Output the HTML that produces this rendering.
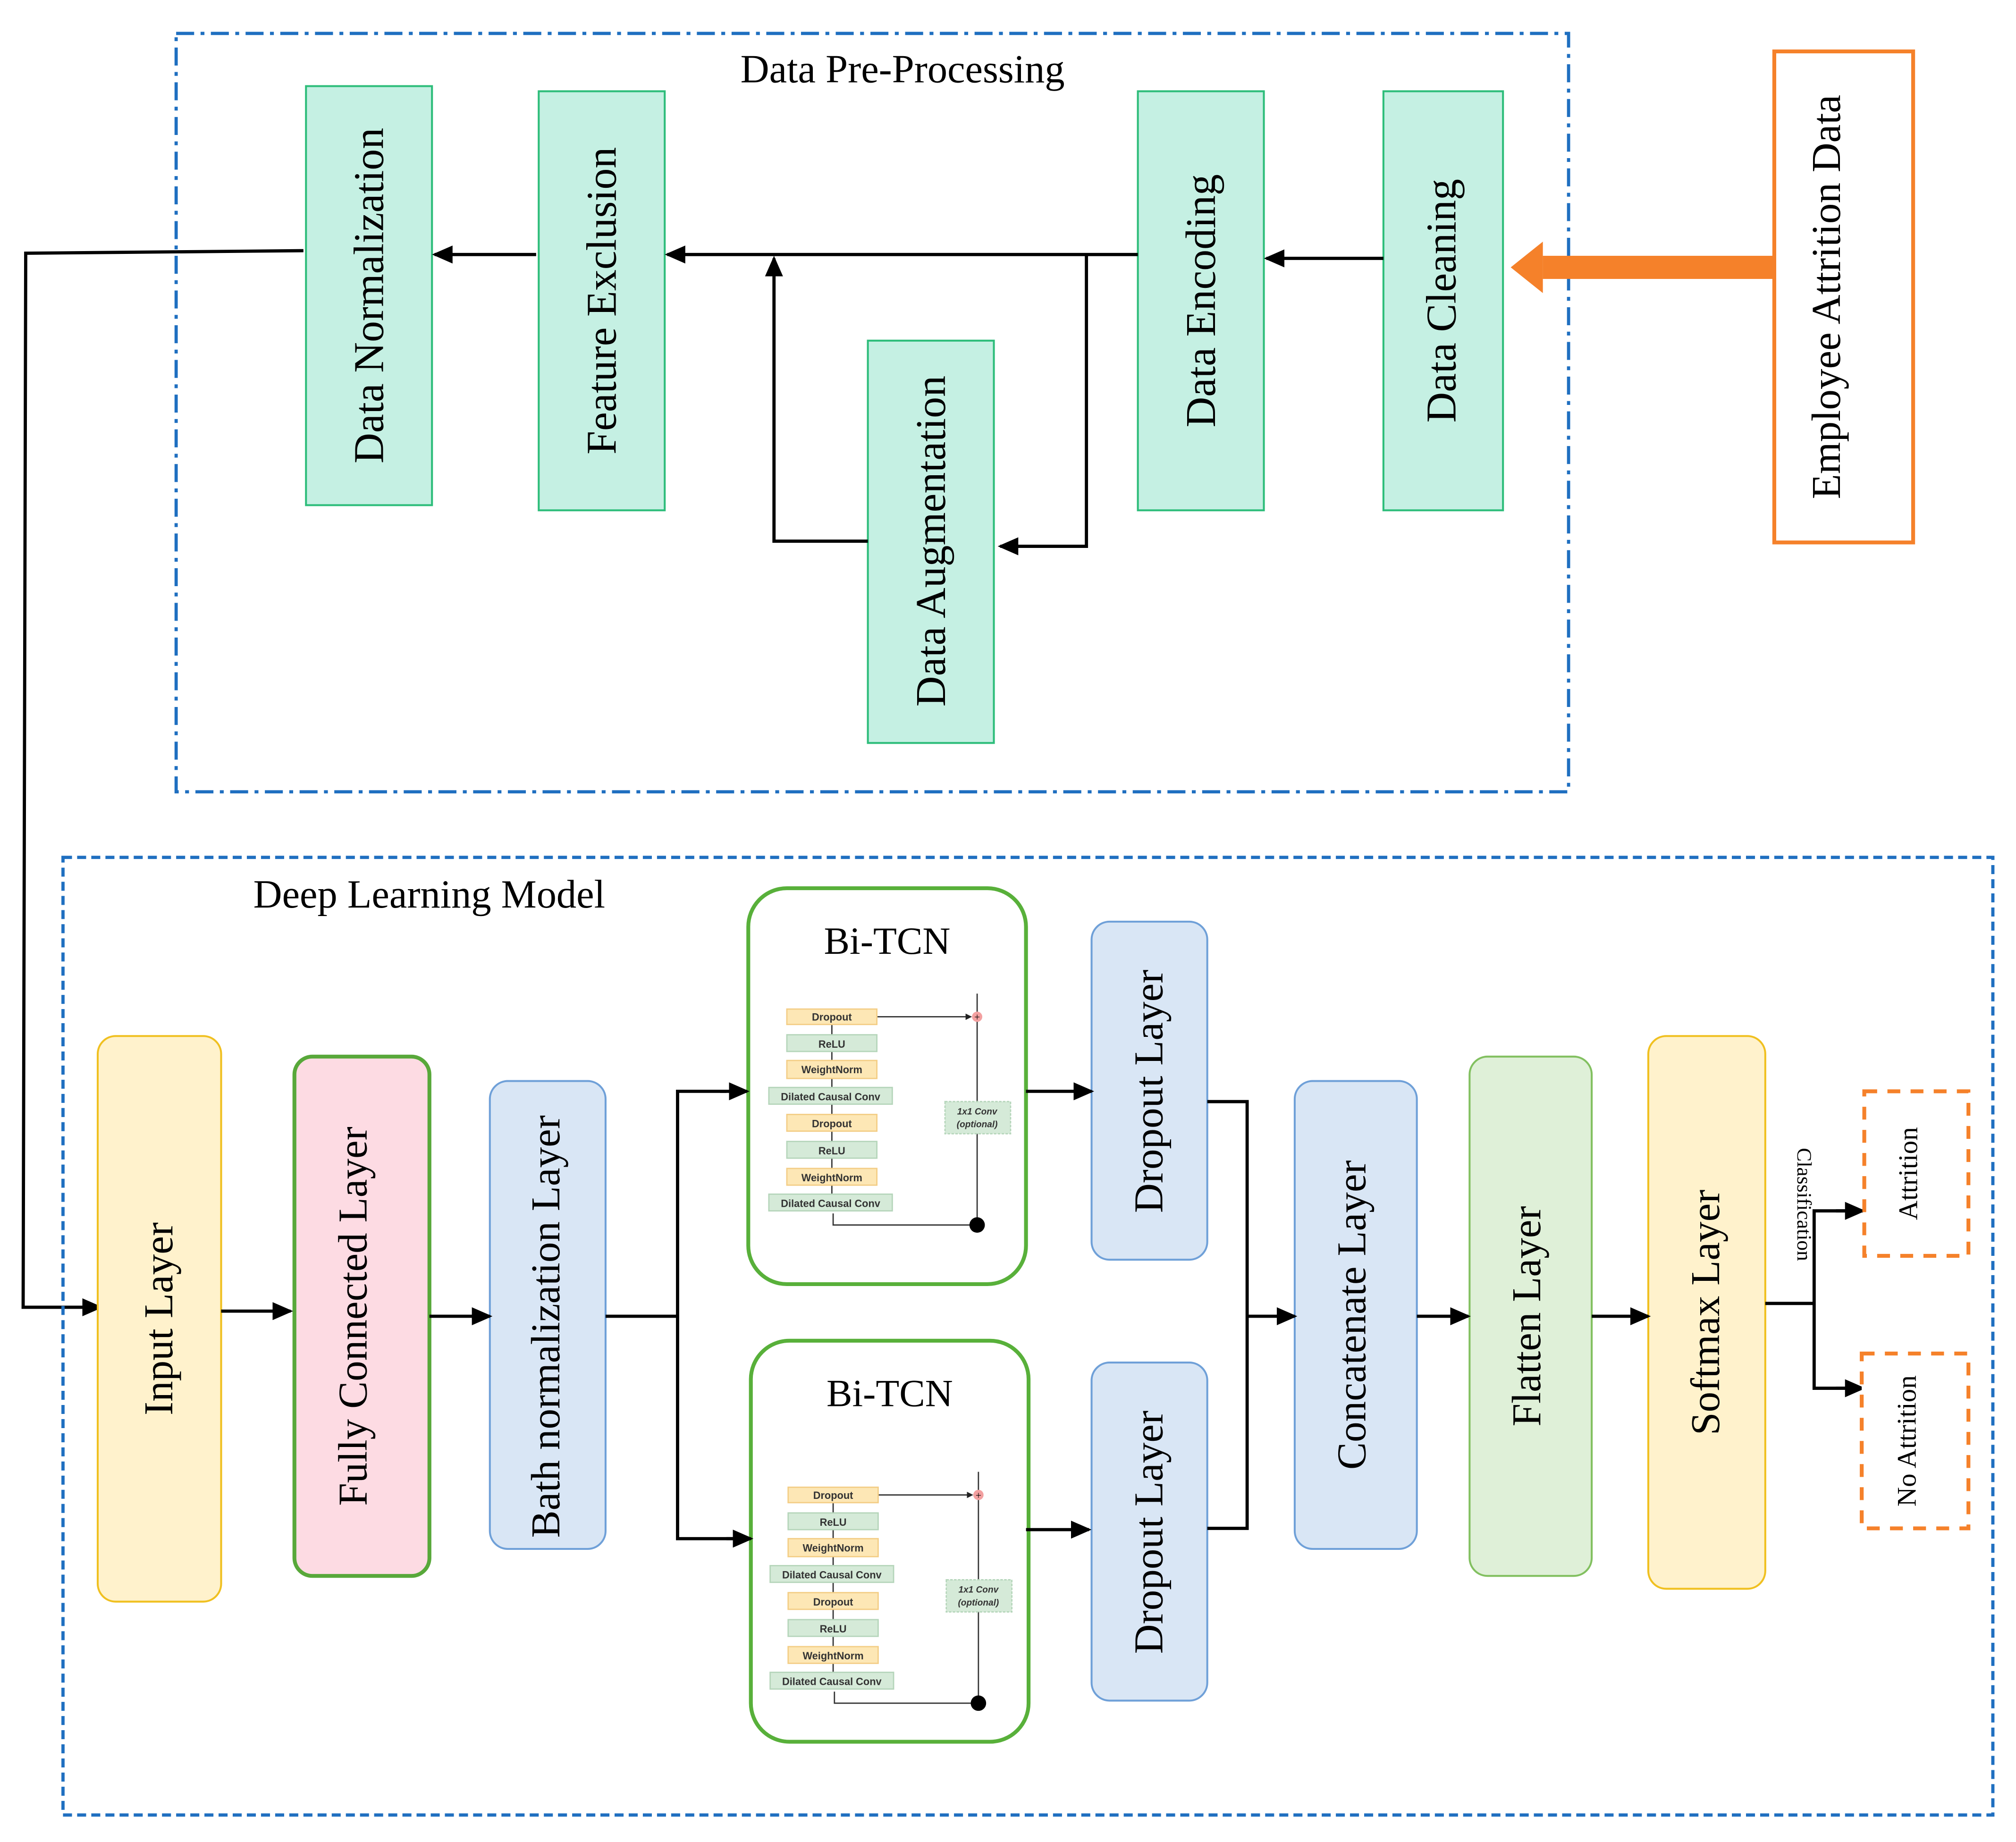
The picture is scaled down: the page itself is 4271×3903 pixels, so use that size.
<!DOCTYPE html>
<html><head><meta charset="utf-8"><style>
html,body{margin:0;padding:0;background:#fff;}
svg{display:block;}
text{font-family:"Liberation Serif",serif;fill:#000;}
.s{font-family:"Liberation Sans",sans-serif;font-weight:bold;fill:#333;}
</style></head><body>
<svg width="4271" height="3903" viewBox="0 0 1568 1433" preserveAspectRatio="none" xmlns="http://www.w3.org/2000/svg">
<defs>
<marker id="a" markerWidth="16" markerHeight="14" refX="14" refY="7" orient="auto" markerUnits="userSpaceOnUse"><path d="M0,0 L16,7 L0,14 z" fill="#000"/></marker>
<marker id="sa" markerWidth="5" markerHeight="5" refX="4" refY="2.5" orient="auto" markerUnits="userSpaceOnUse"><path d="M0,0 L5,2.5 L0,5 z" fill="#222"/></marker>
<g id="tcn">
  <line x1="760" y1="773" x2="760" y2="953" stroke="#333" stroke-width="1"/>
  <line x1="682" y1="791" x2="755" y2="791" stroke="#333" stroke-width="1" marker-end="url(#sa)"/>
  <circle cx="760" cy="791" r="4" fill="#f3a0a0"/><text x="760" y="794" font-size="8" text-anchor="middle" fill="#900">+</text>
  <g stroke="#333" stroke-width="1">
  <line x1="647" y1="805" x2="647" y2="797"/><line x1="647" y1="825" x2="647" y2="818"/>
  <line x1="647" y1="846" x2="647" y2="839"/><line x1="647" y1="867" x2="647" y2="859"/>
  <line x1="647" y1="888" x2="647" y2="880"/><line x1="647" y1="909" x2="647" y2="901"/>
  <line x1="647" y1="929" x2="647" y2="922"/>
  </g>
  <rect x="735" y="857" width="51" height="25" fill="#d5ead8" stroke="#b5d5ba" stroke-dasharray="2,1"/>
  <text x="760" y="867" font-size="7" text-anchor="middle" class="s" font-style="italic">1x1 Conv</text>
  <text x="760" y="877" font-size="7" text-anchor="middle" class="s" font-style="italic">(optional)</text>
  <polyline points="760,953 648,953 648,944" fill="none" stroke="#333" stroke-width="1"/>
  <circle cx="760" cy="953" r="6" fill="#000"/>
  <rect x="612" y="785" width="70" height="12" fill="#fde7b5" stroke="#f3cd85"/><text x="647" y="794" font-size="8" text-anchor="middle" class="s">Dropout</text>
  <rect x="612" y="805" width="70" height="13" fill="#d5ead8" stroke="#b5d5ba"/><text x="647" y="815" font-size="8" text-anchor="middle" class="s">ReLU</text>
  <rect x="612" y="825" width="70" height="14" fill="#fde7b5" stroke="#f3cd85"/><text x="647" y="835" font-size="8" text-anchor="middle" class="s">WeightNorm</text>
  <rect x="598" y="846" width="96" height="13" fill="#d5ead8" stroke="#b5d5ba"/><text x="646" y="856" font-size="8" text-anchor="middle" class="s">Dilated Causal Conv</text>
  <rect x="612" y="867" width="70" height="13" fill="#fde7b5" stroke="#f3cd85"/><text x="647" y="877" font-size="8" text-anchor="middle" class="s">Dropout</text>
  <rect x="612" y="888" width="70" height="13" fill="#d5ead8" stroke="#b5d5ba"/><text x="647" y="898" font-size="8" text-anchor="middle" class="s">ReLU</text>
  <rect x="612" y="909" width="70" height="13" fill="#fde7b5" stroke="#f3cd85"/><text x="647" y="919" font-size="8" text-anchor="middle" class="s">WeightNorm</text>
  <rect x="598" y="929" width="96" height="13" fill="#d5ead8" stroke="#b5d5ba"/><text x="646" y="939" font-size="8" text-anchor="middle" class="s">Dilated Causal Conv</text>
</g>
</defs>
<rect width="1568" height="1433" fill="#fff"/>

<rect x="137" y="26" width="1083" height="590" fill="none" stroke="#1f6fc0" stroke-width="2.5" stroke-dasharray="14,5,3,5"/>
<text x="702" y="64" font-size="31" text-anchor="middle">Data Pre-Processing</text>

<g fill="#c5f0e3" stroke="#2dbd7a" stroke-width="1.5">
<rect x="238" y="67" width="98" height="326"/>
<rect x="419" y="71" width="98" height="326"/>
<rect x="675" y="265" width="98" height="313"/>
<rect x="885" y="71" width="98" height="326"/>
<rect x="1076" y="71" width="93" height="326"/>
</g>
<rect x="1380" y="40" width="108" height="382" fill="#fff" stroke="#f5812a" stroke-width="3"/>
<g font-size="33">
<text transform="translate(298,230) rotate(-90)" text-anchor="middle">Data Normalization</text>
<text transform="translate(479,234) rotate(-90)" text-anchor="middle">Feature Exclusion</text>
<text transform="translate(735,421) rotate(-90)" text-anchor="middle">Data Augmentation</text>
<text transform="translate(945,234) rotate(-90)" text-anchor="middle">Data Encoding</text>
<text transform="translate(1132,234) rotate(-90)" text-anchor="middle">Data Cleaning</text>
</g>
<text transform="translate(1431,231) rotate(-90)" font-size="32" text-anchor="middle">Employee Attrition Data</text>
<rect x="1200" y="199" width="180" height="18" fill="#f5812a"/>
<polygon points="1175,208 1200,188 1200,228" fill="#f5812a"/>

<g stroke="#000" stroke-width="2.5" fill="none">
<line x1="1076" y1="201" x2="985" y2="201" marker-end="url(#a)"/>
<line x1="885" y1="198" x2="519" y2="198" marker-end="url(#a)"/>
<polyline points="845,198 845,425 778,425" marker-end="url(#a)"/>
<polyline points="675,421 602,421 602,201" marker-end="url(#a)"/>
<line x1="417" y1="198" x2="338" y2="198" marker-end="url(#a)"/>
<polyline points="236,195 20,197 18,1017 78,1017" marker-end="url(#a)"/>
</g>

<rect x="49" y="667" width="1501" height="745" fill="none" stroke="#1f6fc0" stroke-width="2.5" stroke-dasharray="7,4"/>
<text x="197" y="706" font-size="31">Deep Learning Model</text>

<rect x="76" y="806" width="96" height="440" rx="14" fill="#fff2cc" stroke="#f0c020" stroke-width="1.5"/>
<rect x="229" y="822" width="105" height="404" rx="14" fill="#fddbe3" stroke="#58a83a" stroke-width="3"/>
<rect x="381" y="841" width="90" height="364" rx="14" fill="#d9e6f5" stroke="#6fa0d8" stroke-width="1.5"/>
<rect x="582" y="691" width="216" height="308" rx="30" fill="#fff" stroke="#58b03a" stroke-width="3"/>
<rect x="584" y="1043" width="216" height="312" rx="30" fill="#fff" stroke="#58b03a" stroke-width="3"/>
<rect x="849" y="717" width="90" height="263" rx="14" fill="#d9e6f5" stroke="#6fa0d8" stroke-width="1.5"/>
<rect x="849" y="1060" width="90" height="263" rx="14" fill="#d9e6f5" stroke="#6fa0d8" stroke-width="1.5"/>
<rect x="1007" y="841" width="95" height="364" rx="14" fill="#d9e6f5" stroke="#6fa0d8" stroke-width="1.5"/>
<rect x="1143" y="822" width="95" height="404" rx="14" fill="#dff0d8" stroke="#82c060" stroke-width="1.5"/>
<rect x="1282" y="806" width="91" height="430" rx="14" fill="#fff2cc" stroke="#f0c020" stroke-width="1.5"/>

<text x="690" y="742" font-size="30" text-anchor="middle">Bi-TCN</text>
<text x="692" y="1094" font-size="30" text-anchor="middle">Bi-TCN</text>
<use href="#tcn"/>
<use href="#tcn" transform="translate(1,372)"/>

<g font-size="32">
<text transform="translate(134,1026) rotate(-90)" text-anchor="middle">Input Layer</text>
<text transform="translate(285,1024) rotate(-90)" text-anchor="middle">Fully Connected Layer</text>
<text transform="translate(435,1032) rotate(-90)" text-anchor="middle">Bath normalization Layer</text>
<text transform="translate(904,849) rotate(-90)" text-anchor="middle">Dropout Layer</text>
<text transform="translate(904,1192) rotate(-90)" text-anchor="middle">Dropout Layer</text>
<text transform="translate(1062,1023) rotate(-90)" text-anchor="middle">Concatenate Layer</text>
<text transform="translate(1198,1024) rotate(-90)" text-anchor="middle">Flatten Layer</text>
<text transform="translate(1337,1021) rotate(-90)" text-anchor="middle">Softmax Layer</text>
</g>

<g stroke="#000" stroke-width="2.5" fill="none">
<line x1="172" y1="1020" x2="226" y2="1020" marker-end="url(#a)"/>
<line x1="334" y1="1024" x2="381" y2="1024" marker-end="url(#a)"/>
<line x1="471" y1="1024" x2="527" y2="1024"/>
<polyline points="565,849 527,849 527,1197 570,1197"/>
<line x1="560" y1="849" x2="581" y2="849" marker-end="url(#a)"/>
<line x1="565" y1="1197" x2="584" y2="1197" marker-end="url(#a)"/>
<line x1="798" y1="849" x2="849" y2="849" marker-end="url(#a)"/>
<line x1="798" y1="1190" x2="847" y2="1190" marker-end="url(#a)"/>
<polyline points="939,857 970,857 970,1189 939,1189"/>
<line x1="970" y1="1024" x2="1007" y2="1024" marker-end="url(#a)"/>
<line x1="1102" y1="1024" x2="1142" y2="1024" marker-end="url(#a)"/>
<line x1="1238" y1="1024" x2="1282" y2="1024" marker-end="url(#a)"/>
<polyline points="1373,1014 1411,1014"/>
<polyline points="1435,942 1411,942 1411,1080 1435,1080"/>
<line x1="1428" y1="942" x2="1449" y2="942" marker-end="url(#a)"/>
<line x1="1428" y1="1080" x2="1449" y2="1080" marker-end="url(#a)"/>
</g>
<text transform="translate(1398,937) rotate(90)" font-size="16" text-anchor="middle">Classification</text>

<rect x="1450" y="849" width="81" height="128" fill="#fff" stroke="#f5812a" stroke-width="3" stroke-dasharray="10,8"/>
<rect x="1448" y="1053" width="83" height="136" fill="#fff" stroke="#f5812a" stroke-width="3" stroke-dasharray="10,8"/>
<text transform="translate(1491,913) rotate(-90)" font-size="21" text-anchor="middle">Attrition</text>
<text transform="translate(1490,1121) rotate(-90)" font-size="21" text-anchor="middle">No Attrition</text>
</svg>
</body></html>
